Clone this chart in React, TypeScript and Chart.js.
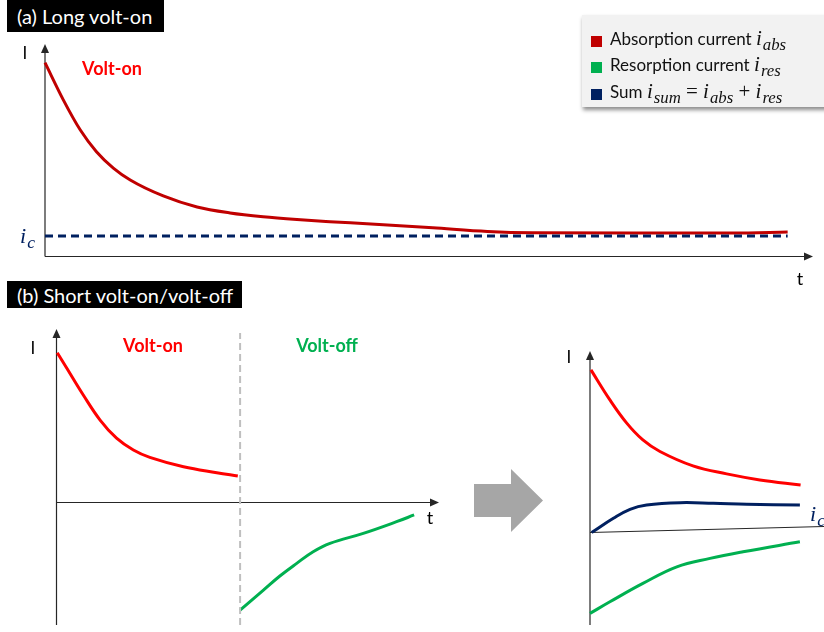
import React, { useEffect, useRef } from "react";
import { Chart, registerables } from "chart.js";
Chart.register(...registerables);

// ---------- Panel (a): long volt-on ----------
const aTime = [0, 2.4, 4.6, 6.7, 8.9, 11.1, 15.4, 19.8, 24.1, 28.4, 32.8, 37.1, 41.9, 50.5, 57.6, 63.5, 76.6, 89.6, 96.7];
const aAbs = [91.2, 73.6, 59.5, 49.3, 41.6, 36.0, 28.5, 23.3, 20.5, 18.7, 17.4, 16.4, 15.4, 13.5, 11.8, 11.2, 11.1, 11.1, 11.5];
const aIcTime = [0, 96.7];
const aIc = [9.6, 9.6];

// ---------- Panel (b) left: short volt-on / volt-off ----------
const bOnTime = [0.2, 2.7, 7.0, 11.4, 15.7, 20.1, 24.4, 33.2, 41.9, 47.4];
const bAbs = [73.4, 65.8, 52.7, 40.4, 31.5, 25.7, 22.1, 17.5, 14.6, 13.0];
const bOffTime = [48.0, 54.1, 58.4, 62.8, 67.1, 71.5, 80.2, 88.9, 93.5];
const bRes = [-52.7, -42.9, -36.0, -29.8, -24.1, -20.0, -15.1, -9.4, -6.1];
const bSwitchTime = [48.0, 48.0];
const bSwitchI = [-60, 83];

// ---------- Panel (b) right: decomposition ----------
const cAbsTime = [0.4, 8.5, 15.7, 22.6, 29.9, 44.0, 58.4, 72.6, 90.0];
const cAbs = [81.3, 66.3, 54.7, 46.3, 40.5, 33.3, 29.3, 26.3, 23.8];
const cSumTime = [0.7, 10.0, 17.1, 24.2, 38.5, 52.7, 67.0, 89.7];
const cSum = [0, 7.1, 11.6, 13.75, 14.9, 14.6, 14.1, 13.75];
const cResTime = [0, 8.5, 22.6, 37.1, 51.3, 65.4, 89.7];
const cRes = [-40.45, -34.65, -25.45, -17.15, -12.95, -9.65, -4.65];

const RED_DARK = "#c00000";
const RED = "#ff0000";
const GREEN = "#00b050";
const NAVY = "#002060";
const AXIS = "#262626";
const FONT = "Lato, 'Open Sans', sans-serif";
const MATH = "'Liberation Serif', 'DejaVu Serif', serif";

const axesPlugin = {
  id: "axesArrows",
  beforeDatasetsDraw(chart: any, _args: any, opts: any) {
    const { ctx, chartArea, scales } = chart;
    const x0 = scales.x.getPixelForValue(0);
    const y0 = scales.y.getPixelForValue(0);
    const tilt = opts.xTilt ?? 0;
    ctx.save();
    ctx.strokeStyle = AXIS;
    ctx.fillStyle = AXIS;
    ctx.lineWidth = 1.2;
    const top = chartArea.top;
    const yBottom = opts.yToBottom ? chartArea.bottom : y0;
    ctx.beginPath();
    ctx.moveTo(x0, yBottom);
    ctx.lineTo(x0, top + 6);
    ctx.stroke();
    ctx.beginPath();
    ctx.moveTo(x0, top);
    ctx.lineTo(x0 - 4, top + 9);
    ctx.lineTo(x0 + 4, top + 9);
    ctx.closePath();
    ctx.fill();
    const right = chartArea.right;
    ctx.beginPath();
    ctx.moveTo(x0, y0);
    ctx.lineTo(opts.xArrow ? right - 6 : right, y0 + tilt);
    ctx.stroke();
    if (opts.xArrow) {
      ctx.beginPath();
      ctx.moveTo(right, y0);
      ctx.lineTo(right - 9, y0 - 4);
      ctx.lineTo(right - 9, y0 + 4);
      ctx.closePath();
      ctx.fill();
    }
    ctx.restore();
  },
};

type Series = { xs: number[]; ys: number[]; color: string; width?: number; dash?: number[]; mode?: "straight" | "monotone" | "spline" };

function PanelChart(props: {
  series: Series[];
  yMin: number;
  yMax: number;
  padding: { left: number; right: number; top: number; bottom: number };
  axes: { yToBottom: boolean; xArrow: boolean; xTilt?: number };
}) {
  const ref = useRef<HTMLCanvasElement>(null);
  useEffect(() => {
    const chart = new Chart(ref.current as HTMLCanvasElement, {
      type: "line",
      data: {
        datasets: props.series.map((s) => {
          const mode = s.mode ?? "spline";
          return {
            data: s.xs.map((x, i) => ({ x, y: s.ys[i] })),
            borderColor: s.color,
            borderWidth: s.width ?? 3,
            borderDash: s.dash ?? [],
            pointRadius: 0,
            tension: mode === "straight" ? 0 : 0.4,
            cubicInterpolationMode: mode === "monotone" ? "monotone" : "default",
            fill: false,
            clip: false,
          };
        }),
      } as any,
      options: {
        responsive: false,
        animation: false,
        events: [],
        layout: { padding: props.padding },
        scales: {
          x: { type: "linear", min: 0, max: 100, display: false },
          y: { type: "linear", min: props.yMin, max: props.yMax, display: false },
        },
        plugins: {
          legend: { display: false },
          tooltip: { enabled: false },
          axesArrows: props.axes,
        } as any,
      },
      plugins: [axesPlugin],
    });
    return () => chart.destroy();
  }, []);
  return <canvas ref={ref} width={824} height={632} style={{ position: "absolute", left: 0, top: 0 }} />;
}

function Label(props: { x: number; y: number; children: React.ReactNode; style?: React.CSSProperties; anchor?: "center" | "left" }) {
  const tx = props.anchor === "left" ? "0" : "-50%";
  return (
    <div
      style={{
        position: "absolute",
        left: props.x,
        top: props.y,
        transform: `translate(${tx}, -50%)`,
        whiteSpace: "nowrap",
        lineHeight: 1,
        fontFamily: FONT,
        ...props.style,
      }}
    >
      {props.children}
    </div>
  );
}

function MathI(props: { sub: string; color?: string; size: number }) {
  return (
    <span style={{ fontFamily: MATH, fontStyle: "italic", color: props.color, fontSize: props.size }}>
      i<sub style={{ fontSize: props.size * 0.8, verticalAlign: "-0.28em", marginLeft: 1 }}>{props.sub}</sub>
    </span>
  );
}

export default function App() {
  const titleStyle: React.CSSProperties = {
    position: "absolute",
    background: "#000",
    color: "#fff",
    fontFamily: FONT,
    fontSize: 20,
    display: "flex",
    alignItems: "center",
    paddingLeft: 10,
    boxSizing: "border-box",
    whiteSpace: "nowrap",
  };
  const legendRow = (color: string, content: React.ReactNode, y: number) => (
    <div style={{ position: "absolute", left: 591, top: y - 6, display: "flex", alignItems: "center", height: 12 }}>
      <div style={{ width: 11, height: 11, background: color, marginRight: 8 }} />
      <div style={{ fontFamily: FONT, fontSize: 17, color: "#111", whiteSpace: "nowrap", lineHeight: 1 }}>{content}</div>
    </div>
  );
  const op: React.CSSProperties = { fontFamily: MATH, fontSize: 21 };
  return (
    <div style={{ position: "absolute", left: 0, top: 0, width: 824, height: 632, overflow: "hidden", background: "#fff" }}>
      <PanelChart
        series={[
          { xs: aIcTime, ys: aIc, color: NAVY, width: 3, dash: [8, 5], mode: "straight" },
          { xs: aTime, ys: aAbs, color: RED_DARK, width: 3, mode: "monotone" },
        ]}
        yMin={0}
        yMax={100}
        padding={{ left: 45, right: 11, top: 44, bottom: 375.5 }}
        axes={{ yToBottom: false, xArrow: true }}
      />
      <PanelChart
        series={[
          { xs: bSwitchTime, ys: bSwitchI, color: "#bfbfbf", width: 2, dash: [7, 4], mode: "straight" },
          { xs: bOnTime, ys: bAbs, color: RED, width: 3 },
          { xs: bOffTime, ys: bRes, color: GREEN, width: 3 },
        ]}
        yMin={-60}
        yMax={85}
        padding={{ left: 56.5, right: 385, top: 329, bottom: 7 }}
        axes={{ yToBottom: true, xArrow: true }}
      />
      <PanelChart
        series={[
          { xs: cAbsTime, ys: cAbs, color: RED, width: 3 },
          { xs: cSumTime, ys: cSum, color: NAVY, width: 3 },
          { xs: cResTime, ys: cRes, color: GREEN, width: 3 },
        ]}
        yMin={-46.25}
        yMax={90.75}
        padding={{ left: 590, right: 0, top: 351, bottom: 7 }}
        axes={{ yToBottom: true, xArrow: false, xTilt: -6 }}
      />

      {/* titles */}
      <div style={{ ...titleStyle, left: 7, top: 0, width: 157, height: 32 }}>(a) Long volt-on</div>
      <div style={{ ...titleStyle, left: 7, top: 281, width: 235, height: 27 }}>(b) Short volt-on/volt-off</div>

      {/* panel (a) labels */}
      <Label x={25} y={52} style={{ fontSize: 17 }}>I</Label>
      <Label x={112} y={68} style={{ fontSize: 18, fontWeight: 700, color: RED }}>Volt-on</Label>
      <Label x={800} y={278} style={{ fontSize: 18 }}>t</Label>
      <Label x={20} y={238} anchor="left"><MathI sub="c" color={NAVY} size={22} /></Label>

      {/* panel (b) left labels */}
      <Label x={33} y={347} style={{ fontSize: 17 }}>I</Label>
      <Label x={153} y={345} style={{ fontSize: 18, fontWeight: 700, color: RED }}>Volt-on</Label>
      <Label x={327} y={345} style={{ fontSize: 18, fontWeight: 700, color: GREEN }}>Volt-off</Label>
      <Label x={430} y={517} style={{ fontSize: 18 }}>t</Label>

      {/* panel (b) right labels */}
      <Label x={569} y={356} style={{ fontSize: 17 }}>I</Label>
      <Label x={810} y={516} anchor="left"><MathI sub="c" color={NAVY} size={22} /></Label>

      {/* transition arrow */}
      <svg width={824} height={632} style={{ position: "absolute", left: 0, top: 0, pointerEvents: "none" }}>
        <polygon points="474,484 511,484 511,469 543,500.5 511,532 511,517 474,517" fill="#a6a6a6" />
      </svg>

      {/* legend */}
      <div
        style={{
          position: "absolute",
          left: 582,
          top: 15,
          width: 250,
          height: 92,
          background: "#f2f2f2",
          boxShadow: "1px 3px 4px rgba(0,0,0,0.45)",
        }}
      />
      {legendRow(RED_DARK, <>Absorption current <MathI sub="abs" size={21} /></>, 41)}
      {legendRow(GREEN, <>Resorption current <MathI sub="res" size={21} /></>, 67)}
      {legendRow(
        NAVY,
        <>
          Sum <MathI sub="sum" size={21} />
          <span style={op}> = </span>
          <MathI sub="abs" size={21} />
          <span style={op}> + </span>
          <MathI sub="res" size={21} />
        </>,
        94
      )}
    </div>
  );
}
